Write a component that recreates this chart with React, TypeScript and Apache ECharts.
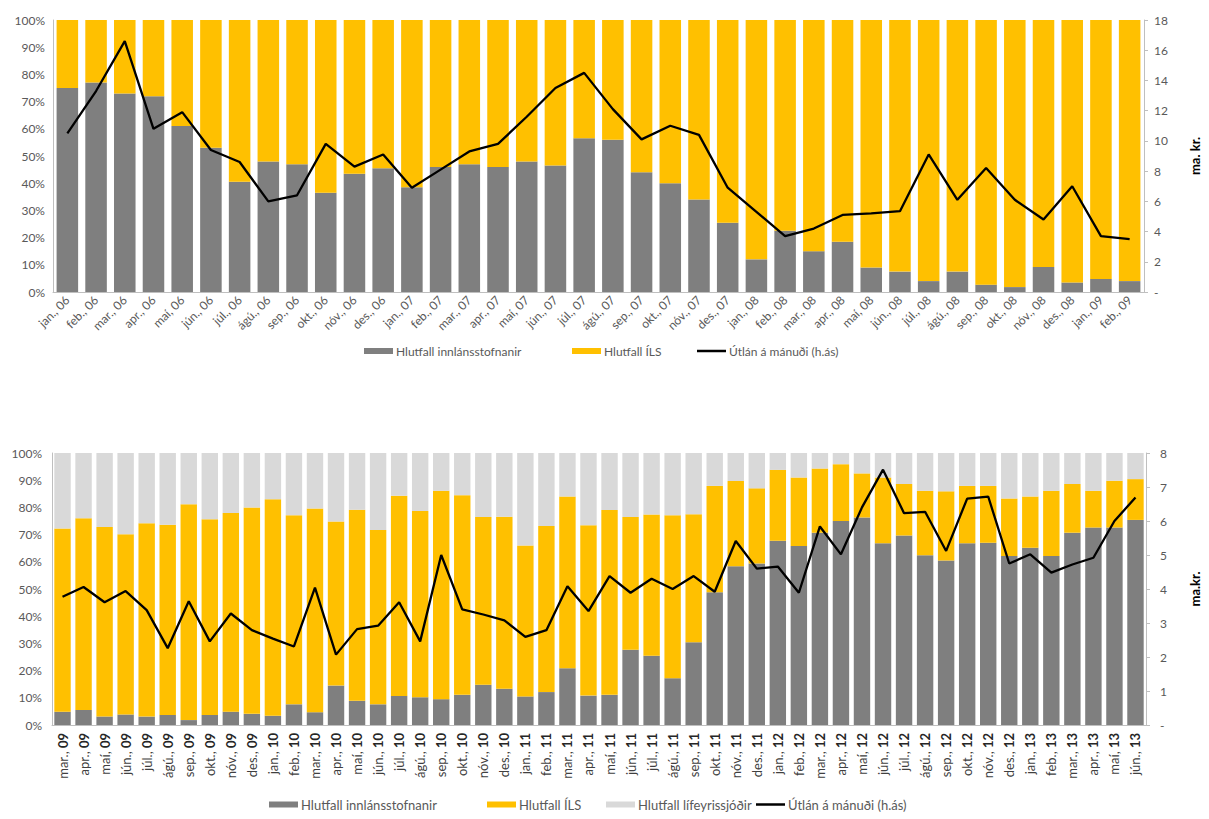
import React, { useEffect, useRef } from "react";
import * as echarts from "echarts";

const topCategories = [
  "jan., 06", "feb., 06", "mar., 06", "apr., 06", "maí, 06", "jún., 06", "júl., 06", "ágú., 06", "sep., 06", "okt., 06", "nóv., 06", "des., 06",
  "jan., 07", "feb., 07", "mar., 07", "apr., 07", "maí, 07", "jún., 07", "júl., 07", "ágú., 07", "sep., 07", "okt., 07", "nóv., 07", "des., 07",
  "jan., 08", "feb., 08", "mar., 08", "apr., 08", "maí, 08", "jún., 08", "júl., 08", "ágú., 08", "sep., 08", "okt., 08", "nóv., 08", "des., 08",
  "jan., 09", "feb., 09",
];
const topBanks = [
  75, 77, 73, 72, 61, 53, 40.5, 48, 47, 36.5, 43.5, 45.5,
  38.5, 46, 47, 46, 48, 46.5, 56.5, 56, 44, 40, 34, 25.5,
  12, 22.5, 15, 18.5, 9, 7.5, 4, 7.5, 2.7, 1.8, 9.2, 3.5,
  4.8, 4,
];
const topILS = [
  25, 23, 27, 28, 39, 47, 59.5, 52, 53, 63.5, 56.5, 54.5,
  61.5, 54, 53, 54, 52, 53.5, 43.5, 44, 56, 60, 66, 74.5,
  88, 77.5, 85, 81.5, 91, 92.5, 96, 92.5, 97.3, 98.2, 90.8, 96.5,
  95.2, 96,
];
const topLending = [
  10.5, 13.3, 16.6, 10.8, 11.9, 9.4, 8.6, 6.0, 6.4, 9.8, 8.3, 9.1,
  6.9, 8.1, 9.3, 9.8, 11.6, 13.5, 14.5, 12.1, 10.1, 11.0, 10.4, 6.9,
  5.3, 3.7, 4.2, 5.1, 5.2, 5.35, 9.1, 6.1, 8.2, 6.1, 4.8, 7.0,
  3.7, 3.5,
];

const bottomCategories = [
  "mar., 09", "apr., 09", "maí, 09", "jún., 09", "júl., 09", "ágú., 09", "sep., 09", "okt., 09", "nóv., 09", "des., 09",
  "jan., 10", "feb., 10", "mar., 10", "apr., 10", "maí, 10", "jún., 10", "júl., 10", "ágú., 10", "sep., 10", "okt., 10", "nóv., 10", "des., 10",
  "jan., 11", "feb., 11", "mar., 11", "apr., 11", "maí, 11", "jún., 11", "júl., 11", "ágú., 11", "sep., 11", "okt., 11", "nóv., 11", "des., 11",
  "jan., 12", "feb., 12", "mar., 12", "apr., 12", "maí, 12", "jún., 12", "júl., 12", "ágú., 12", "sep., 12", "okt., 12", "nóv., 12", "des., 12",
  "jan., 13", "feb., 13", "mar., 13", "apr., 13", "maí, 13", "jún., 13",
];
const bottomBanks = [
  4.9, 5.5, 3.1, 3.9, 3.1, 3.7, 1.8, 3.7, 4.9, 4.1,
  3.4, 7.6, 4.7, 14.5, 8.9, 7.6, 10.7, 10.2, 9.5, 11.1, 14.8, 13.3,
  10.5, 12.1, 20.9, 10.8, 11.1, 27.7, 25.5, 17.2, 30.4, 48.8, 58.4, 59.4,
  67.7, 65.8, 70.7, 75, 76.3, 66.8, 69.7, 62.4, 60.5, 66.8, 67, 62.1,
  65.2, 62.1, 70.7, 72.6, 72.6, 75.4,
];
const bottomILS = [
  67.3, 70.5, 69.7, 66.2, 71.1, 69.9, 79.4, 71.9, 73.0, 75.9,
  79.6, 69.5, 74.9, 60.3, 70.2, 64.1, 73.6, 68.5, 76.6, 73.4, 61.7, 63.3,
  55.5, 61.1, 63.1, 62.6, 67.9, 48.8, 51.9, 59.9, 47.1, 39.1, 31.3, 27.6,
  26.1, 25.2, 23.6, 20.9, 16.2, 24.2, 18.9, 23.7, 25.4, 21.1, 20.9, 21.2,
  18.8, 24.0, 17.9, 13.5, 17.2, 15.0,
];
const bottomPension = [
  27.8, 24.0, 27.2, 29.9, 25.8, 26.4, 18.8, 24.4, 22.1, 20.0,
  17.0, 22.9, 20.4, 25.2, 20.9, 28.3, 15.7, 21.3, 13.9, 15.5, 23.5, 23.4,
  34.0, 26.8, 16.0, 26.6, 21.0, 23.5, 22.6, 22.9, 22.5, 12.1, 10.3, 13.0,
  6.2, 9.0, 5.7, 4.1, 7.5, 9.0, 11.4, 13.9, 14.1, 12.1, 12.1, 16.7,
  16.0, 13.9, 11.4, 13.9, 10.2, 9.6,
];
const bottomLending = [
  3.77, 4.06, 3.61, 3.94, 3.38, 2.26, 3.64, 2.46, 3.28, 2.79,
  2.54, 2.31, 4.04, 2.07, 2.82, 2.92, 3.61, 2.46, 5.0, 3.4, 3.25, 3.08,
  2.59, 2.79, 4.08, 3.35, 4.38, 3.89, 4.3, 4.0, 4.38, 3.92, 5.41, 4.6,
  4.66, 3.89, 5.84, 5.02, 6.4, 7.51, 6.23, 6.27, 5.12, 6.66, 6.72, 4.75,
  5.02, 4.48, 4.72, 4.92, 6.0, 6.69,
];

const NAME_BANKS = "Hlutfall innlánsstofnanir";
const NAME_ILS = "Hlutfall ÍLS";
const NAME_PENSION = "Hlutfall lífeyrissjóðir";
const NAME_LENDING = "Útlán á mánuði (h.ás)";

const GRAY = "#7f7f7f";
const YELLOW = "#ffc000";
const LIGHT = "#d9d9d9";
const FONT = "Lato, 'Open Sans', sans-serif";
const TEXT = "#595959";
const AXIS = "#bfbfbf";

function legendItem(name: string, left: number, top: number, fontSize: number, isLine: boolean) {
  return {
    left,
    top,
    padding: 0,
    itemWidth: 29,
    itemHeight: isLine ? 2.5 : 6,
    itemGap: 0,
    textStyle: { fontFamily: FONT, fontSize, color: TEXT, padding: [0, 0, 0, -2] },
    data: [{ name, icon: "rect" }],
  };
}

export default function App() {
  const ref = useRef<HTMLDivElement>(null);

  useEffect(() => {
    if (!ref.current) return;
    const chart = echarts.init(ref.current, undefined, { renderer: "svg" });
    const dash = (v: number) => (v === 0 ? "-" : String(v));
    chart.setOption({
      animation: false,
      textStyle: { fontFamily: FONT },
      grid: [
        { left: 53, top: 20, width: 1099, height: 272 },
        { left: 52, top: 453, width: 1106, height: 272 },
      ],
      legend: [
        legendItem(NAME_BANKS, 364, 345, 12, false),
        legendItem(NAME_ILS, 572, 345, 12, false),
        legendItem(NAME_LENDING, 697, 345, 12, true),
        legendItem(NAME_BANKS, 269, 798, 13, false),
        legendItem(NAME_ILS, 487, 798, 13, false),
        legendItem(NAME_PENSION, 606, 798, 13, false),
        legendItem(NAME_LENDING, 756, 798, 13, true),
      ],
      xAxis: [
        {
          type: "category",
          gridIndex: 0,
          data: topCategories,
          axisLine: { lineStyle: { color: AXIS } },
          axisTick: { show: false },
          axisLabel: {
            interval: 0,
            rotate: 45,
            margin: 6,
            fontSize: 12,
            color: TEXT,
            fontFamily: FONT,
          },
        },
        {
          type: "category",
          gridIndex: 1,
          data: bottomCategories,
          axisLine: { lineStyle: { color: AXIS } },
          axisTick: { show: false },
          axisLabel: {
            interval: 0,
            rotate: 90,
            margin: 8,
            fontSize: 13,
            color: "#404040",
            fontFamily: FONT,
            formatter: (v: string) => {
              const parts = v.split(", ");
              return `{m|${parts[0]}, }{y|${parts[1]}}`;
            },
            rich: {
              m: { fontSize: 13, color: "#404040", fontFamily: FONT },
              y: { fontSize: 13, color: "#262626", fontWeight: "bold", fontFamily: FONT },
            },
          },
        },
      ],
      yAxis: [
        {
          type: "value",
          gridIndex: 0,
          min: 0,
          max: 100,
          interval: 10,
          splitLine: { show: false },
          axisLine: { show: true, lineStyle: { color: AXIS } },
          axisTick: { show: false },
          axisLabel: { formatter: "{value}%", fontSize: 12, color: TEXT, margin: 8 },
        },
        {
          type: "value",
          gridIndex: 0,
          position: "right",
          min: 0,
          max: 18,
          interval: 2,
          splitLine: { show: false },
          axisLine: { show: true, lineStyle: { color: AXIS } },
          axisTick: { show: true, length: 4, lineStyle: { color: AXIS } },
          axisLabel: { formatter: dash, fontSize: 12, color: TEXT, margin: 10 },
          name: "ma. kr.",
          nameLocation: "middle",
          nameRotate: 90,
          nameGap: 44,
          nameTextStyle: { fontWeight: "bold", color: "#000", fontSize: 13, fontFamily: FONT },
        },
        {
          type: "value",
          gridIndex: 1,
          min: 0,
          max: 100,
          interval: 10,
          splitLine: { show: false },
          axisLine: { show: true, lineStyle: { color: AXIS } },
          axisTick: { show: false },
          axisLabel: { formatter: "{value}%", fontSize: 12, color: TEXT, margin: 10 },
        },
        {
          type: "value",
          gridIndex: 1,
          position: "right",
          min: 0,
          max: 8,
          interval: 1,
          splitLine: { show: false },
          axisLine: { show: true, lineStyle: { color: AXIS } },
          axisTick: { show: true, length: 4, lineStyle: { color: AXIS } },
          axisLabel: { formatter: dash, fontSize: 12, color: TEXT, margin: 14 },
          name: "ma.kr.",
          nameLocation: "middle",
          nameRotate: 90,
          nameGap: 42,
          nameTextStyle: { fontWeight: "bold", color: "#000", fontSize: 13, fontFamily: FONT },
        },
      ],
      series: [
        {
          name: NAME_BANKS, type: "bar", stack: "top", xAxisIndex: 0, yAxisIndex: 0,
          barCategoryGap: "25%", itemStyle: { color: GRAY }, data: topBanks,
        },
        {
          name: NAME_ILS, type: "bar", stack: "top", xAxisIndex: 0, yAxisIndex: 0,
          barCategoryGap: "25%", itemStyle: { color: YELLOW }, data: topILS,
        },
        {
          name: NAME_LENDING, type: "line", xAxisIndex: 0, yAxisIndex: 1,
          symbol: "none", lineStyle: { color: "#000", width: 2.3 }, itemStyle: { color: "#000" },
          data: topLending, z: 5,
        },
        {
          name: NAME_BANKS, type: "bar", stack: "bottom", xAxisIndex: 1, yAxisIndex: 2,
          barCategoryGap: "22%", itemStyle: { color: GRAY }, data: bottomBanks,
        },
        {
          name: NAME_ILS, type: "bar", stack: "bottom", xAxisIndex: 1, yAxisIndex: 2,
          barCategoryGap: "22%", itemStyle: { color: YELLOW }, data: bottomILS,
        },
        {
          name: NAME_PENSION, type: "bar", stack: "bottom", xAxisIndex: 1, yAxisIndex: 2,
          barCategoryGap: "22%", itemStyle: { color: LIGHT }, data: bottomPension,
        },
        {
          name: NAME_LENDING, type: "line", xAxisIndex: 1, yAxisIndex: 3,
          symbol: "none", lineStyle: { color: "#000", width: 2.3 }, itemStyle: { color: "#000" },
          data: bottomLending, z: 5,
        },
      ],
    });
    return () => chart.dispose();
  }, []);

  return (
    <div
      ref={ref}
      style={{ position: "fixed", left: 0, top: 0, width: 1209, height: 819, background: "#fff" }}
    />
  );
}
